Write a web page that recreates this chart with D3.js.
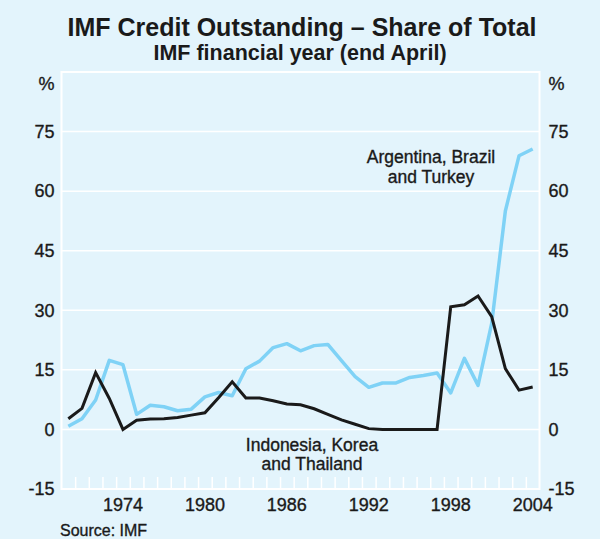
<!DOCTYPE html>
<html>
<head>
<meta charset="utf-8">
<script src="https://cdn.jsdelivr.net/npm/d3@7"></script>
<style>
  body { margin: 0; background: #e3f4fc; }
  svg { display: block; font-family: "Liberation Sans", Arial, Helvetica, sans-serif; }
  .lbl { fill: #1a1a1a; stroke: #1a1a1a; stroke-width: 0.35px; }
</style>
</head>
<body>
<div id="chart"></div>
<script>
// IMF financial years (end April)
const years = d3.range(1970, 2005);

// Argentina, Brazil and Turkey, % of total
const abtShare = [0.8, 2.7, 7.4, 17.4, 16.3, 3.8, 6.1, 5.7, 4.7, 5.1,
                  8.2, 9.3, 8.5, 15.3, 17.2, 20.6, 21.6, 19.8, 21.1, 21.4,
                  17.3, 13.3, 10.6, 11.7, 11.7, 13.1, 13.6, 14.2, 9.2, 17.9,
                  11.1, 26.7, 55.0, 68.9, 70.6];

// Indonesia, Korea and Thailand, % of total
const iktShare = [2.7, 5.3, 14.3, 7.8, 0.0, 2.3, 2.6, 2.7, 3.0, 3.6,
                  4.2, 8.0, 12.0, 7.9, 7.9, 7.2, 6.4, 6.2, 5.2, 3.8,
                  2.4, 1.3, 0.2, 0.0, 0.0, 0.0, 0.0, 0.0, 30.9, 31.4,
                  33.6, 28.4, 15.3, 9.9, 10.7];

const yTicks = [-15, 0, 15, 30, 45, 60, 75];
const xLabels = [1974, 1980, 1986, 1992, 1998, 2004];

const W = 600, H = 539;
const margin = {top: 72, right: 60.5, bottom: 50, left: 61.5};

const svg = d3.select("#chart")
  .append("svg")
    .attr("width", W)
    .attr("height", H);

svg.append("rect")
  .attr("width", W).attr("height", H)
  .attr("fill", "#e3f4fc");

const x = d3.scaleLinear()
  .domain([1970, 2005])
  .range([margin.left, W - margin.right]);

const y = d3.scaleLinear()
  .domain([-15, 90])
  .range([H - margin.bottom, margin.top]);

// gridlines
svg.append("g")
  .selectAll("line")
  .data(yTicks.filter(d => d > -15))
  .join("line")
    .attr("x1", x(1970)).attr("x2", x(2005))
    .attr("y1", d => y(d)).attr("y2", d => y(d))
    .attr("stroke", "#ffffff")
    .attr("stroke-width", 1.5);

// plot frame
svg.append("rect")
  .attr("x", x(1970)).attr("y", y(90))
  .attr("width", x(2005) - x(1970))
  .attr("height", y(-15) - y(90))
  .attr("fill", "none")
  .attr("stroke", "#ffffff")
  .attr("stroke-width", 2);

// year ticks along the bottom
const xAxis = svg.append("g")
  .attr("transform", `translate(0,${y(-15)})`)
  .call(d3.axisBottom(x)
    .tickValues(d3.range(1971, 2005))
    .tickSize(-12)
    .tickFormat(""));
xAxis.select(".domain").remove();
xAxis.selectAll(".tick line").attr("stroke", "#ffffff").attr("stroke-width", 1.5);

svg.append("g")
  .selectAll("text")
  .data(xLabels)
  .join("text")
    .attr("class", "lbl")
    .attr("x", d => x(d + 0.5))
    .attr("y", y(-15) + 22)
    .attr("text-anchor", "middle")
    .attr("font-size", 18)
    .text(d => d);

// y axes, both sides
const leftAxis = svg.append("g")
  .attr("transform", `translate(${x(1970)},0)`)
  .call(d3.axisLeft(y).tickValues(yTicks).tickSize(0).tickPadding(7)
    .tickFormat(d => String(d)));
const rightAxis = svg.append("g")
  .attr("transform", `translate(${x(2005)},0)`)
  .call(d3.axisRight(y).tickValues(yTicks).tickSize(0).tickPadding(9)
    .tickFormat(d => String(d)));
[leftAxis, rightAxis].forEach(a => {
  a.select(".domain").remove();
  a.attr("font-family", null);
  a.selectAll("text")
    .attr("class", "lbl")
    .attr("font-size", 18);
});

svg.append("text")
  .attr("class", "lbl")
  .attr("x", x(1970) - 7).attr("y", 90)
  .attr("text-anchor", "end")
  .attr("font-size", 18)
  .text("%");
svg.append("text")
  .attr("class", "lbl")
  .attr("x", x(2005) + 9).attr("y", 90)
  .attr("font-size", 18)
  .text("%");

// series
const line = d3.line()
  .x((d, i) => x(years[i] + 0.5))
  .y(d => y(d));

svg.append("path")
  .datum(abtShare)
  .attr("d", line)
  .attr("fill", "none")
  .attr("stroke", "#7fd2f6")
  .attr("stroke-width", 3.5)
  .attr("stroke-linejoin", "round");

svg.append("path")
  .datum(iktShare)
  .attr("d", line)
  .attr("fill", "none")
  .attr("stroke", "#1a1a1a")
  .attr("stroke-width", 3)
  .attr("stroke-linejoin", "miter");

// series labels
const abtLabel = svg.append("text")
  .attr("class", "lbl")
  .attr("text-anchor", "middle")
  .attr("font-size", 17.5);
abtLabel.append("tspan").attr("x", 431).attr("y", 163).text("Argentina, Brazil");
abtLabel.append("tspan").attr("x", 431).attr("y", 183).text("and Turkey");

const iktLabel = svg.append("text")
  .attr("class", "lbl")
  .attr("text-anchor", "middle")
  .attr("font-size", 17.5);
iktLabel.append("tspan").attr("x", 312).attr("y", 451).text("Indonesia, Korea");
iktLabel.append("tspan").attr("x", 312).attr("y", 470).text("and Thailand");

// titles
svg.append("text")
  .attr("x", 302).attr("y", 36)
  .attr("text-anchor", "middle")
  .attr("font-size", 25)
  .attr("font-weight", "bold")
  .attr("fill", "#1a1a1a")
  .text("IMF Credit Outstanding \u2013 Share of Total");

svg.append("text")
  .attr("x", 300).attr("y", 60)
  .attr("text-anchor", "middle")
  .attr("font-size", 21.5)
  .attr("font-weight", "bold")
  .attr("fill", "#1a1a1a")
  .text("IMF financial year (end April)");

svg.append("text")
  .attr("class", "lbl")
  .attr("x", 60).attr("y", 536)
  .attr("font-size", 16)
  .text("Source: IMF");
</script>
</body>
</html>
